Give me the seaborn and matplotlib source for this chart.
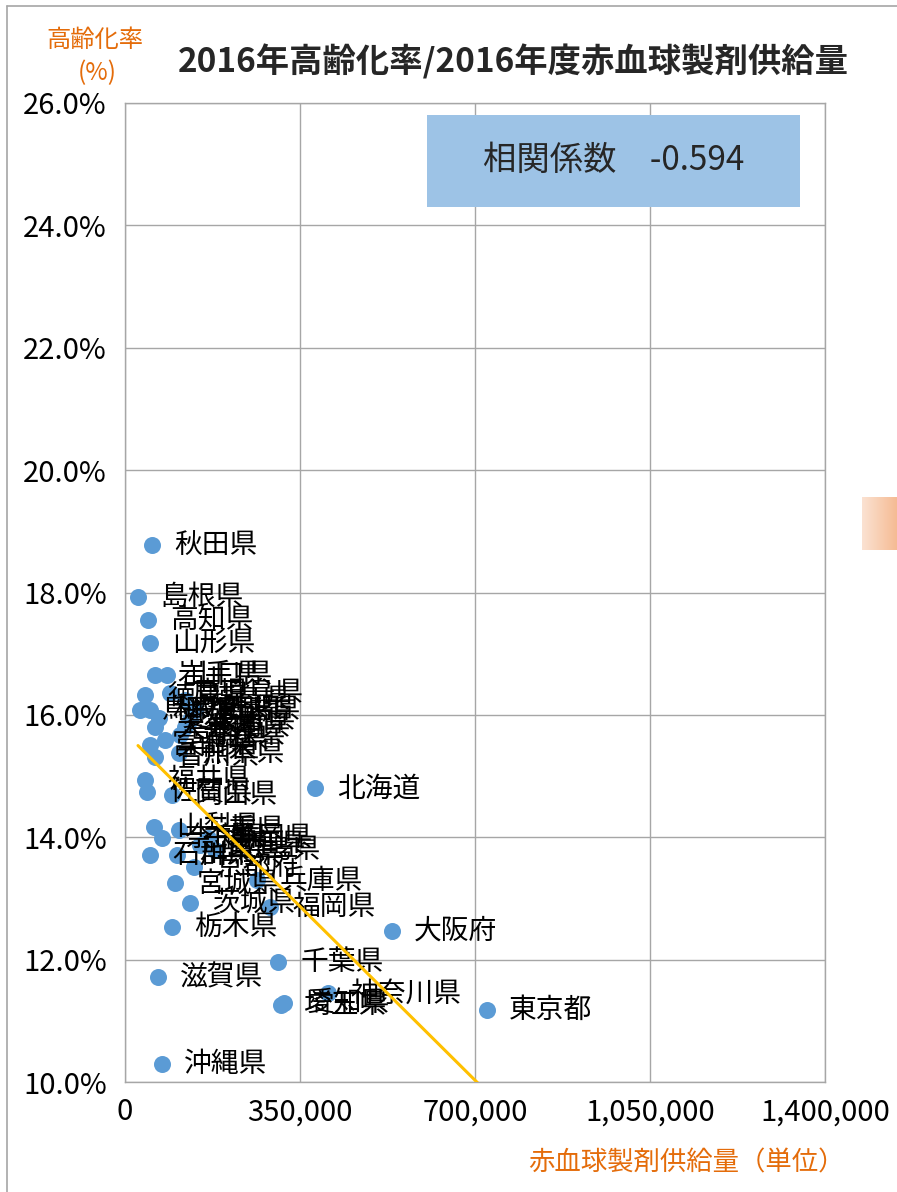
"""2016 elderly ratio vs 2016 red blood cell product supply, by prefecture."""

import matplotlib

matplotlib.use("Agg")
import matplotlib.pyplot as plt
import numpy as np
import seaborn as sns
from matplotlib.lines import Line2D
from matplotlib.patches import Rectangle
from matplotlib.ticker import FuncFormatter

prefectures = [
    "北海道", "青森県", "岩手県", "宮城県", "秋田県", "山形県", "福島県",
    "茨城県", "栃木県", "群馬県", "埼玉県", "千葉県", "東京都", "神奈川県",
    "新潟県", "富山県", "石川県", "福井県", "山梨県", "長野県", "岐阜県",
    "静岡県", "愛知県", "三重県", "滋賀県", "京都府", "大阪府", "兵庫県",
    "奈良県", "和歌山県", "鳥取県", "島根県", "岡山県", "広島県", "山口県",
    "徳島県", "香川県", "愛媛県", "高知県", "福岡県", "佐賀県", "長崎県",
    "熊本県", "大分県", "宮崎県", "鹿児島県", "沖縄県",
]
supply = [
    380000, 110000, 60000, 100000, 54000, 50000, 120000,
    130000, 94000, 104000, 312000, 306000, 724000, 406000,
    140000, 50000, 50000, 40000, 58000, 130000, 150000,
    166000, 318000, 108000, 66000, 138000, 534000, 264000,
    74000, 50000, 30000, 26000, 94000, 180000, 84000,
    40000, 60000, 68000, 46000, 290000, 44000, 120000,
    108000, 60000, 80000, 90000, 74000,
]
aging_rate = [
    14.80, 15.67, 16.65, 13.25, 18.78, 17.17, 16.24,
    12.93, 12.53, 13.71, 11.26, 11.96, 11.18, 11.45,
    16.08, 15.51, 13.71, 14.94, 14.17, 15.92, 13.87,
    13.99, 11.29, 14.12, 11.71, 13.51, 12.47, 13.30,
    13.99, 16.08, 16.08, 17.93, 14.69, 13.79, 16.65,
    16.32, 15.31, 15.95, 17.55, 12.86, 14.74, 15.80,
    15.38, 15.80, 15.59, 16.36, 10.29,
]
x_ticks = [0, 350000, 700000, 1050000, 1400000]
y_ticks = [10, 12, 14, 16, 18, 20, 22, 24, 26]

sns.set_style("white")
plt.rcParams["font.family"] = ["Noto Sans CJK JP", "DejaVu Sans"]

ORANGE = "#E46C0A"
GRID = "#A6A6A6"

fig = plt.figure(figsize=(8.97, 11.92), dpi=100)
ax = fig.add_axes([125 / 897, 110 / 1192, 700 / 897, 979 / 1192])

sns.scatterplot(x=supply, y=aging_rate, s=150, color="#5B9BD5",
                linewidth=0, ax=ax, zorder=2)
sns.regplot(x=supply, y=aging_rate, scatter=False, ci=None, truncate=True,
            line_kws=dict(color="#FFC000", lw=2.2, zorder=4), ax=ax)

for name, xv, yv in zip(prefectures, supply, aging_rate):
    ax.annotate(name, (xv, yv), xytext=(16, 0), textcoords="offset points",
                va="center", ha="left", fontsize=20, color="black", zorder=3)

ax.set_xlim(x_ticks[0], x_ticks[-1])
ax.set_ylim(y_ticks[0], y_ticks[-1])
ax.set_xticks(x_ticks)
ax.set_yticks(y_ticks)
ax.xaxis.set_major_formatter(FuncFormatter(lambda v, p: f"{v:,.0f}"))
ax.yaxis.set_major_formatter(FuncFormatter(lambda v, p: f"{v:.1f}%"))
ax.grid(True, color=GRID, lw=1.0, zorder=0)
ax.set_axisbelow(True)
for sp in ax.spines.values():
    sp.set_color(GRID)
    sp.set_linewidth(1.0)
ax.tick_params(axis="both", direction="out", length=5, width=1.0,
               color=GRID, labelsize=21, labelcolor="black")
ax.tick_params(axis="x", pad=6)
ax.tick_params(axis="y", pad=8)
ax.set_xlabel("")
ax.set_ylabel("")

# correlation box
ax.add_patch(Rectangle((0.431, 0.894), 0.533, 0.094, transform=ax.transAxes,
                       facecolor="#9DC3E6", edgecolor="none", zorder=5))
ax.text(0.698, 0.941, "相関係数　-0.594", transform=ax.transAxes,
        ha="center", va="center", fontsize=24, zorder=6)

# titles
fig.text(513 / 897, 1 - 62 / 1192, "2016年高齢化率/2016年度赤血球製剤供給量",
         ha="center", va="center", fontsize=24, fontweight="bold")
fig.text(95 / 897, 1 - 40 / 1192, "高齢化率", ha="center", va="center",
         fontsize=17.5, color=ORANGE)
fig.text(97 / 897, 1 - 73 / 1192, "(%)", ha="center", va="center",
         fontsize=17.5, color=ORANGE)
fig.text(845 / 897, 1 - 1163 / 1192, "赤血球製剤供給量（単位）", ha="right",
         va="center", fontsize=19, color=ORANGE)

# outer frame (top and left edges visible)
fig.add_artist(Line2D([7 / 897, 1.0], [1 - 6 / 1192, 1 - 6 / 1192],
                      transform=fig.transFigure, color=GRID, lw=1.2))
fig.add_artist(Line2D([7 / 897, 7 / 897], [0.0, 1 - 6 / 1192],
                      transform=fig.transFigure, color=GRID, lw=1.2))

# orange side tab
tab = fig.add_axes([862 / 897, 1 - 550 / 1192, 36 / 897, 53 / 1192])
grad = np.linspace(0, 1, 64).reshape(1, -1)
cmap = matplotlib.colors.LinearSegmentedColormap.from_list("tab", ["#FBE2D2", "#F5B990"])
tab.imshow(grad, aspect="auto", cmap=cmap)
tab.axis("off")

fig.savefig("out.png", dpi=100)
plt.close(fig)
